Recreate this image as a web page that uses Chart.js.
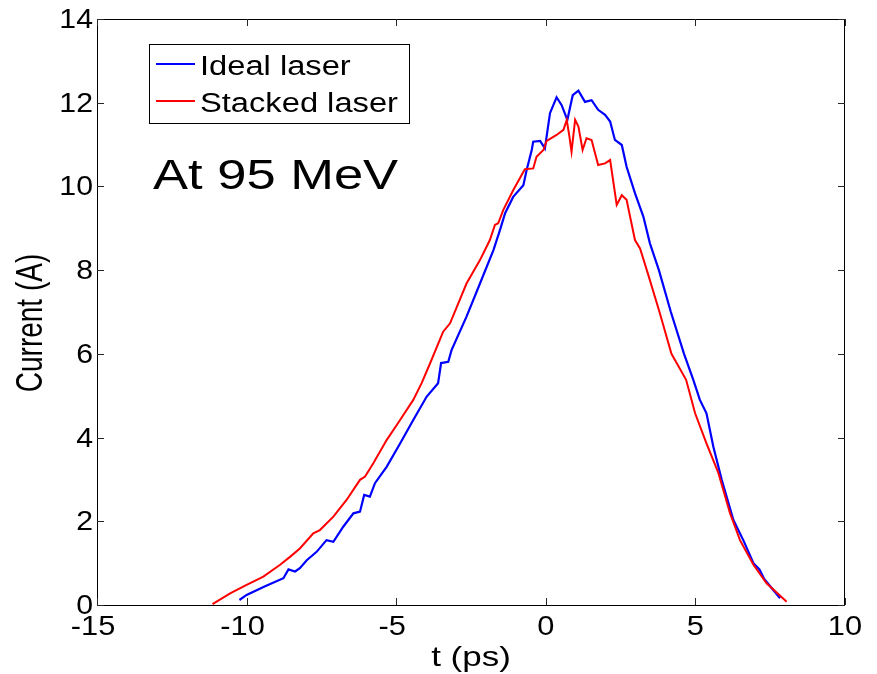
<!DOCTYPE html>
<html>
<head>
<meta charset="utf-8">
<script src="https://cdn.jsdelivr.net/npm/chart.js@4.4.1/dist/chart.umd.min.js"></script>
<style>
  html, body { margin: 0; padding: 0; background: #ffffff; }
  #wrap { width: 877px; height: 674px; }
</style>
</head>
<body>
<div id="wrap"><canvas id="c" width="877" height="674"></canvas></div>
<script>
// ---- data ----
const seriesNames = ["Ideal laser", "Stacked laser"];
const seriesColors = ["#0000ff", "#ff0000"];

const idealT = [-10.24,-10.0,-9.4,-8.77,-8.6,-8.38,-8.22,-7.99,-7.66,-7.33,-7.1,-6.77,-6.43,-6.21,-6.07,-5.88,-5.71,-5.32,-4.87,-4.43,-3.98,-3.6,-3.5,-3.26,-3.15,-2.65,-2.2,-1.75,-1.53,-1.36,-1.09,-0.75,-0.64,-0.47,-0.42,-0.19,-0.03,0.14,0.36,0.53,0.72,0.90,1.09,1.31,1.53,1.75,1.98,2.15,2.31,2.54,2.70,2.98,3.26,3.48,3.78,4.18,4.62,4.93,5.15,5.37,5.60,5.88,6.27,6.6,6.94,7.14,7.3,7.83];
const idealI = [0.12,0.24,0.44,0.64,0.85,0.80,0.88,1.07,1.27,1.55,1.51,1.87,2.19,2.23,2.63,2.59,2.91,3.30,3.86,4.42,4.98,5.30,5.78,5.81,6.09,6.89,7.68,8.48,8.96,9.36,9.75,10.03,10.39,10.87,11.07,11.09,10.91,11.75,12.13,11.94,11.59,12.18,12.29,12.02,12.06,11.83,11.71,11.55,11.11,10.99,10.47,9.84,9.28,8.64,8.0,7.0,6.0,5.38,4.90,4.58,3.78,2.99,2.03,1.55,1.0,0.85,0.62,0.16];

const stackedT = [-11.14,-10.55,-10.0,-9.44,-8.88,-8.55,-8.22,-7.77,-7.55,-7.1,-6.66,-6.21,-6.04,-5.76,-5.32,-4.87,-4.43,-4.15,-3.87,-3.43,-3.2,-2.65,-2.2,-1.87,-1.70,-1.59,-1.42,-1.09,-0.70,-0.42,-0.31,-0.08,0.03,0.36,0.59,0.70,0.79,0.86,0.98,1.09,1.23,1.36,1.53,1.75,1.98,2.15,2.37,2.54,2.70,2.98,3.15,3.42,3.8,4.2,4.69,4.99,5.37,5.77,6.16,6.49,6.94,7.38,8.05];
const stackedI = [0.02,0.28,0.48,0.68,0.96,1.15,1.35,1.71,1.79,2.11,2.51,2.99,3.07,3.39,3.94,4.42,4.90,5.30,5.77,6.53,6.73,7.68,8.24,8.72,9.08,9.12,9.44,9.91,10.41,10.43,10.71,10.87,11.09,11.23,11.35,11.59,11.19,10.83,11.59,11.43,10.87,11.15,11.11,10.51,10.55,10.63,9.56,9.79,9.68,8.72,8.52,7.9,7.0,6.0,5.38,4.58,3.86,3.15,2.19,1.55,0.96,0.52,0.08];

const xTicks = [-15, -10, -5, 0, 5, 10];
const yTicks = [0, 2, 4, 6, 8, 10, 12, 14];
const xTitle = "t (ps)";
const yTitle = "Current (A)";
const annotation = "At 95 MeV";

// ---- helpers ----
const FONT = '"Liberation Sans", Arial, Helvetica, sans-serif';
function drawText(ctx, text, x, y, size, sx, align, rotate) {
  ctx.save();
  ctx.translate(x, y);
  ctx.scale(sx, 1);
  if (rotate) ctx.rotate(-Math.PI / 2);
  ctx.font = size + 'px ' + FONT;
  ctx.textAlign = align;
  ctx.textBaseline = 'alphabetic';
  ctx.fillStyle = '#000000';
  ctx.fillText(text, 0, 0);
  ctx.restore();
}
function toPoints(ts, vs) { return ts.map((t, i) => ({ x: t, y: vs[i] })); }

const frame = {
  id: 'matlabFrame',
  afterDraw(chart) {
    const ctx = chart.ctx;
    const a = chart.chartArea;
    const xs = chart.scales.x, ys = chart.scales.y;
    ctx.save();
    // box
    ctx.strokeStyle = '#000000';
    ctx.lineWidth = 1;
    ctx.strokeRect(Math.round(a.left) + 0.5, Math.round(a.top) + 0.5,
                   Math.round(a.right - a.left) - 1, Math.round(a.bottom - a.top));
    // inner ticks
    const tl = 7;
    ctx.strokeStyle = '#262626';
    ctx.beginPath();
    xs.ticks.forEach(t => {
      const px = Math.round(xs.getPixelForValue(t.value)) + 0.5;
      ctx.moveTo(px, a.bottom); ctx.lineTo(px, a.bottom - tl);
      ctx.moveTo(px, a.top); ctx.lineTo(px, a.top + tl);
    });
    ys.ticks.forEach(t => {
      const py = Math.round(ys.getPixelForValue(t.value)) + 0.5;
      ctx.moveTo(a.left, py); ctx.lineTo(a.left + tl, py);
      ctx.moveTo(a.right, py); ctx.lineTo(a.right - tl, py);
    });
    ctx.stroke();
    ctx.restore();
    // tick labels
    xs.ticks.forEach(t => {
      const shift = t.value < 0 ? -4 : 0;
      drawText(ctx, String(t.value), xs.getPixelForValue(t.value) + shift, a.bottom + 30, 28, 1.1, 'center');
    });
    ys.ticks.forEach(t => {
      drawText(ctx, String(t.value), a.left - 4, ys.getPixelForValue(t.value) + 9, 28, 1.08, 'right');
    });
    // axis titles
    drawText(ctx, xTitle, (a.left + a.right) / 2, a.bottom + 61, 28, 1.25, 'center');
    drawText(ctx, yTitle, 42, (a.top + a.bottom) / 2 + 11, 28, 1.3, 'center', true);
    // annotation
    drawText(ctx, annotation, 153, 189, 42, 1.25, 'left');
    // legend
    ctx.save();
    ctx.fillStyle = '#ffffff';
    ctx.fillRect(149.5, 44.5, 260, 79);
    ctx.strokeStyle = '#000000';
    ctx.lineWidth = 1;
    ctx.strokeRect(149.5, 44.5, 260, 79);
    const rows = [64, 101];
    chart.data.datasets.forEach((ds, i) => {
      ctx.strokeStyle = ds.borderColor;
      ctx.lineWidth = 2;
      ctx.beginPath();
      ctx.moveTo(156, rows[i]); ctx.lineTo(195, rows[i]);
      ctx.stroke();
    });
    ctx.restore();
    chart.data.datasets.forEach((ds, i) => {
      drawText(ctx, ds.label, 200, rows[i] + 11, 27, 1.21, 'left');
    });
  }
};

new Chart(document.getElementById('c'), {
  type: 'scatter',
  data: {
    datasets: [
      { label: seriesNames[0], data: toPoints(idealT, idealI), borderColor: seriesColors[0],
        backgroundColor: seriesColors[0], showLine: true, pointRadius: 0, borderWidth: 2.2, order: 1, tension: 0 },
      { label: seriesNames[1], data: toPoints(stackedT, stackedI), borderColor: seriesColors[1],
        backgroundColor: seriesColors[1], showLine: true, pointRadius: 0, borderWidth: 2, order: 0, tension: 0 }
    ]
  },
  options: {
    responsive: false,
    animation: false,
    devicePixelRatio: 1,
    layout: { padding: { top: 19, right: 32, left: 0, bottom: 0 } },
    plugins: { legend: { display: false }, tooltip: { enabled: false } },
    scales: {
      x: {
        type: 'linear', min: -15, max: 10,
        afterBuildTicks: s => { s.ticks = xTicks.map(v => ({ value: v })); },
        afterFit: s => { s.height = 69; },
        ticks: { display: false },
        grid: { display: false },
        border: { display: false }
      },
      y: {
        type: 'linear', min: 0, max: 14,
        afterBuildTicks: s => { s.ticks = yTicks.map(v => ({ value: v })); },
        afterFit: s => { s.width = 97; },
        ticks: { display: false },
        grid: { display: false },
        border: { display: false }
      }
    }
  },
  plugins: [frame]
});
</script>
</body>
</html>
